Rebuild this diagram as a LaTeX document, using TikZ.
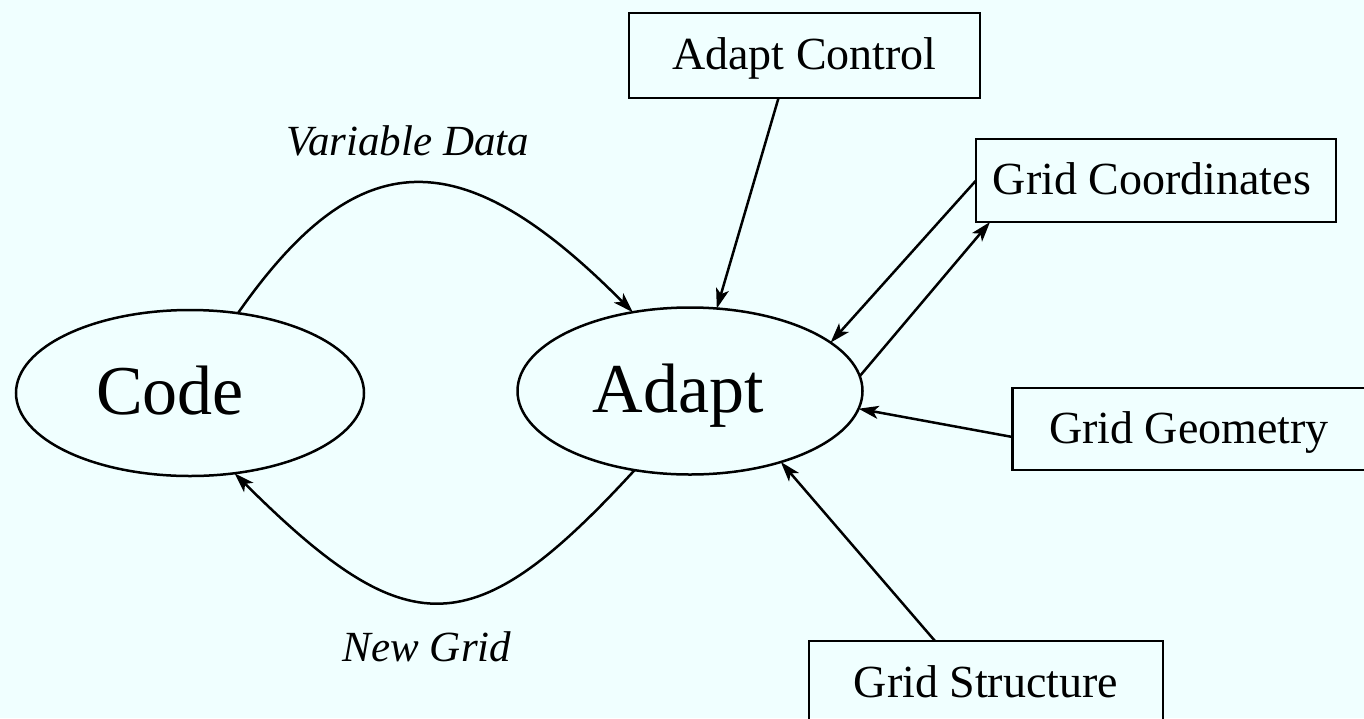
\documentclass[tikz,border=0pt]{standalone}
\usepackage{fontspec}
\setmainfont{Liberation Serif}
\usetikzlibrary{shapes.geometric,arrows.meta,calc}
\definecolor{bgcol}{RGB}{240,255,255}
\begin{document}
\begin{tikzpicture}[x=1pt,y=-1pt,
  conn/.style={line width=2.5pt, -{Stealth[length=20pt,width=13pt,inset=5pt]}},
  ell/.style={ellipse, draw, line width=2.5pt, inner sep=0pt, outer sep=0pt,
    font=\fontsize{70}{84}\selectfont, text height=56pt, text depth=14pt},
  box/.style={rectangle, draw, line width=2.5pt, inner sep=0pt, outer sep=0pt,
    font=\fontsize{46}{55}\selectfont, text height=37pt, text depth=9pt},
  lbl/.style={font=\fontsize{43}{52}\selectfont\itshape, anchor=base, inner sep=0pt}]
\path[use as bounding box, fill=bgcol] (0,0) rectangle (1364,718);
\clip (0,0) rectangle (1364,718);

\node[ell, minimum width=348pt, minimum height=166pt] (C) at (190,393) {Code\kern40pt};
\node[ell, minimum width=345pt, minimum height=167pt] (A) at (690,391) {Adapt\kern24pt};
\node[box, minimum width=351pt, minimum height=85pt] (AC) at (804.5,55.5) {Adapt Control};
\node[box, minimum width=360pt, minimum height=83pt] (GC) at (1156,180.5) {Grid Coordinates\kern8pt};
\node[box, minimum width=353pt, minimum height=82pt] (GG) at (1189,429) {Grid Geometry};
\node[box, minimum width=354pt, minimum height=85pt] (GS) at (986,683.5) {Grid Structure};

\node[lbl] (VD) at (408,155) {Variable Data};
\node[lbl] (NG) at (427,661) {New Grid};

\draw[conn] (C.59) .. controls (359,140) and (462,140) .. (A.126);
\draw[conn] (A.235) .. controls (473,646) and (408,646) .. (C.299);
\draw[conn] ([xshift=-26pt]AC.south) -- (A.72);
\draw[conn] (GC.west) -- (A.19);
\draw[conn] (A.5) -- ([xshift=14pt]GC.south west);
\draw[conn] ([yshift=-8pt]GG.west) -- (A.-6);
\draw[conn] ([xshift=-51pt]GS.north) -- (A.-38);
\end{tikzpicture}
\end{document}
